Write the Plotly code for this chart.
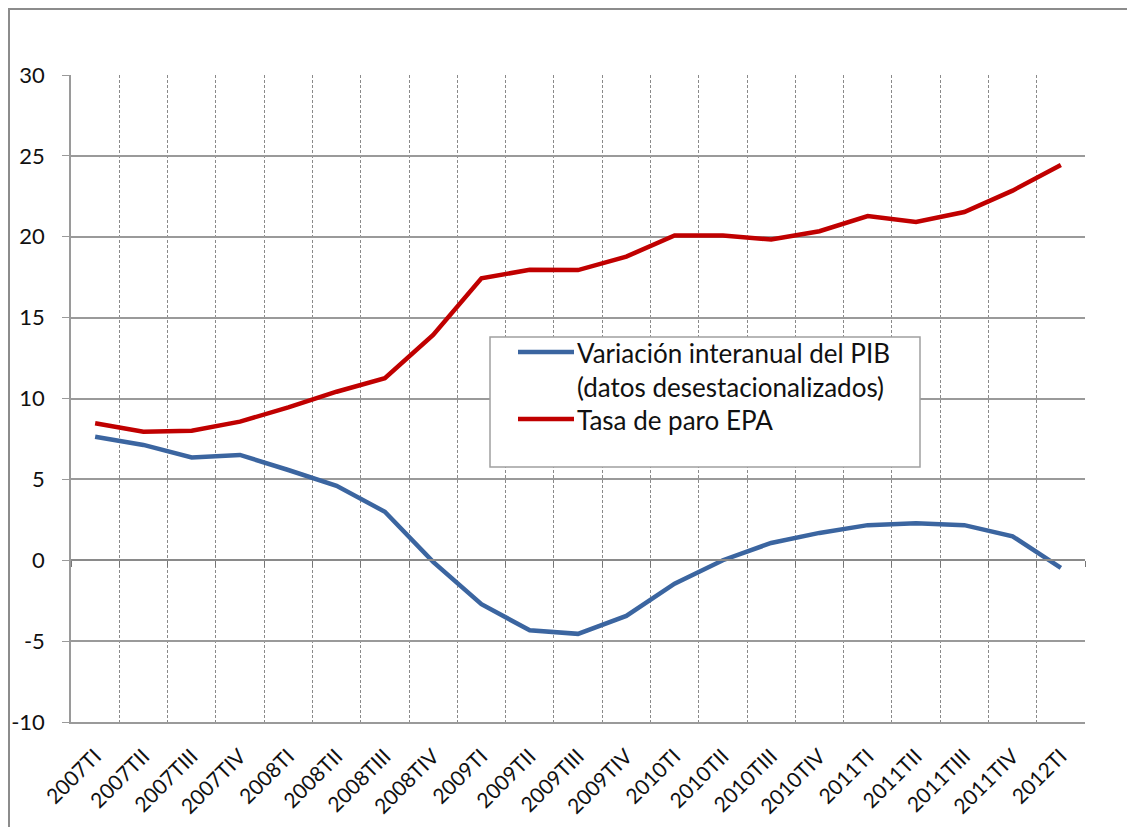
import plotly.graph_objects as go

categories = ["2007TI", "2007TII", "2007TIII", "2007TIV",
              "2008TI", "2008TII", "2008TIII", "2008TIV",
              "2009TI", "2009TII", "2009TIII", "2009TIV",
              "2010TI", "2010TII", "2010TIII", "2010TIV",
              "2011TI", "2011TII", "2011TIII", "2011TIV",
              "2012TI"]

pib = [7.64, 7.13, 6.36, 6.51, 5.58, 4.6, 3.0, -0.1, -2.72, -4.33, -4.55,
       -3.44, -1.45, 0.0, 1.07, 1.69, 2.17, 2.29, 2.17, 1.48, -0.47]

paro = [8.47, 7.95, 8.01, 8.57, 9.45, 10.42, 11.25, 13.93, 17.43, 17.96, 17.94,
        18.77, 20.08, 20.08, 19.83, 20.34, 21.28, 20.91, 21.53, 22.85, 24.44]

name_pib = "Variación interanual del PIB<br>(datos desestacionalizados)"
name_paro = "Tasa de paro EPA"
y_ticks = [-10, -5, 0, 5, 10, 15, 20, 25, 30]
y_ticktext = ["-10", "-5", "0", "5", "10", "15", "20", "25", "30"]

BLUE = "#3B65A0"
RED = "#C00000"
GRID = "#9a9a9a"
FONT = "Lato, 'DejaVu Sans', sans-serif"
TXT = "#111111"

fig = go.Figure()
fig.add_trace(go.Scatter(x=categories, y=pib, mode="lines", name=name_pib,
                         line=dict(color=BLUE, width=4.5), showlegend=False))
fig.add_trace(go.Scatter(x=categories, y=paro, mode="lines", name=name_paro,
                         line=dict(color=RED, width=4.5), showlegend=False))
# invisible trace carrying the category axis drawn at y = 0
fig.add_trace(go.Scatter(x=categories, y=paro, mode="lines", xaxis="x2",
                         opacity=0, showlegend=False, hoverinfo="skip"))

OFF = 8  # page body margin
W, H = 1135, 827
L = 71 - OFF
T = 75 - OFF
R = W - (1085 - OFF)
B = H - (722 - OFF)
pw, ph = W - L - R, H - T - B

def px_x(x):
    return (x - OFF - L) / pw

def px_y(y):
    return (H - B - (y - OFF)) / ph

fig.update_layout(
    width=W, height=H,
    margin=dict(l=L, r=R, t=T, b=B, autoexpand=False),
    paper_bgcolor="white", plot_bgcolor="white",
    font=dict(family=FONT, color=TXT),
    showlegend=False,
    xaxis=dict(
        type="category", range=[-0.5, 20.5], automargin=False,
        tickson="boundaries", showgrid=True, gridcolor="#8a8a8a",
        griddash="3px,2px", gridwidth=1,
        ticks="", tickangle=-45, tickfont=dict(size=21, family=FONT, color=TXT),
        ticklabelstandoff=12,
        showline=True, linecolor=GRID, linewidth=1.5,
    ),
    xaxis2=dict(
        type="category", overlaying="x", anchor="free", position=0.25,
        range=[-0.5, 20.5], tickson="boundaries", ticks="outside", ticklen=6,
        tickcolor="#777", tickwidth=1, automargin=False,
        showticklabels=False, showgrid=False, showline=True,
        linecolor="#8a8a8a", linewidth=1.5,
    ),
    yaxis=dict(
        range=[-10, 30], tickvals=y_ticks, ticktext=y_ticktext,
        automargin=False, showgrid=True, gridcolor=GRID,
        gridwidth=1.5, zeroline=False, showline=True, linecolor=GRID,
        linewidth=1.5, ticks="outside", ticklen=7, tickcolor=GRID,
        tickfont=dict(size=22, family=FONT, color=TXT),
        ticklabelstandoff=13,
    ),
)

# outer chart border
fig.add_shape(type="rect", xref="paper", yref="paper",
              x0=px_x(OFF + 1), x1=px_x(1200), y0=px_y(900), y1=px_y(OFF + 1),
              line=dict(color="#8c8c8c", width=2), fillcolor="rgba(0,0,0,0)",
              layer="below")

# legend box (manual, to match the long Excel symbol lines)
fig.add_shape(type="rect", xref="paper", yref="paper",
              x0=px_x(490), x1=px_x(920), y0=px_y(467), y1=px_y(337),
              line=dict(color="#a0a0a0", width=1.5), fillcolor="white")
for color, ypix in [(BLUE, 352), (RED, 419)]:
    fig.add_shape(type="line", xref="paper", yref="paper",
                  x0=px_x(518), x1=px_x(574), y0=px_y(ypix), y1=px_y(ypix),
                  line=dict(color=color, width=4.5))
legend_lines = [("Variación interanual del PIB", 353),
                ("(datos desestacionalizados)", 387),
                (name_paro, 420)]
for txt, ypix in legend_lines:
    fig.add_annotation(xref="paper", yref="paper", x=px_x(575), y=px_y(ypix),
                       text=txt, showarrow=False,
                       xanchor="left", yanchor="middle",
                       font=dict(size=26, family=FONT, color=TXT))

fig.write_html("out.html")
